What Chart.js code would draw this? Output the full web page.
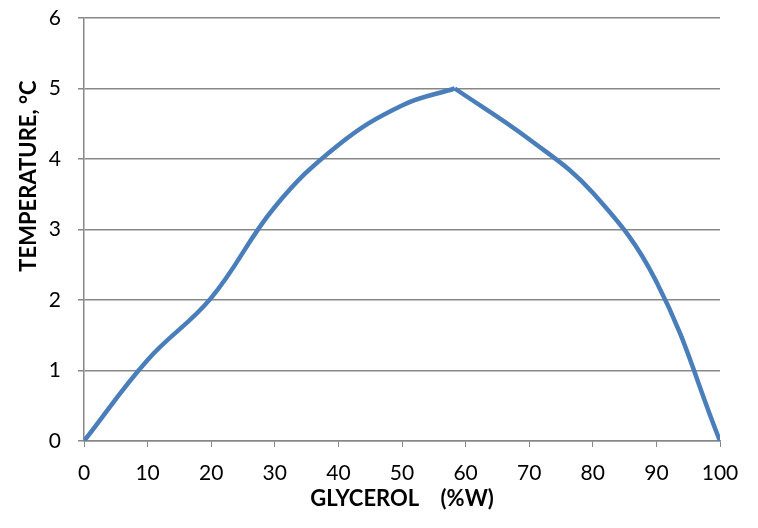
<!DOCTYPE html>
<html>
<head>
<meta charset="utf-8">
<script src="https://cdn.jsdelivr.net/npm/chart.js@4"></script>
<style>
html,body{margin:0;padding:0;background:#fff;}
#wrap{width:758px;height:528px;}
</style>
</head>
<body>
<div id="wrap"><canvas id="c" width="758" height="528"></canvas></div>
<script>
const xValues = [0, 10, 20, 30, 40, 50, 58.3, 70, 80, 90, 100];
const yValues = [0, 1.15, 2.03, 3.32, 4.2, 4.76, 5.0, 4.28, 3.52, 2.26, 0];
const xTitle = 'GLYCEROL    (%W)';
const yTitle = 'TEMPERATURE, °C';

const points = xValues.map((x, i) => ({x: x, y: yValues[i]}));
// split at the peak so the curve keeps its sharp top
let peak = 0;
yValues.forEach((v, i) => { if (v > yValues[peak]) peak = i; });
const leftPts = points.slice(0, peak + 1);
const rightPts = points.slice(peak);
const gridColor = '#878787';
const lineColor = '#4a7ebb';

const yTitlePlugin = {
  id: 'yTitle',
  afterDraw(chart) {
    const ctx = chart.ctx;
    ctx.save();
    ctx.translate(29, 176);
    ctx.rotate(-Math.PI / 2);
    ctx.font = 'bold 22px Lato';
    ctx.fillStyle = '#000';
    ctx.textAlign = 'center';
    ctx.textBaseline = 'middle';
    ctx.fillText(yTitle, 0, 0);
    ctx.restore();
  }
};

const ds = d => ({
  data: d,
  borderColor: lineColor,
  borderWidth: 4.5,
  pointRadius: 0,
  tension: 0.4,
  fill: false
});

new Chart(document.getElementById('c'), {
  type: 'line',
  data: {datasets: [ds(leftPts), ds(rightPts)]},
  options: {
    responsive: false,
    animation: false,
    devicePixelRatio: 1,
    layout: {padding: {top: 18, right: 38, left: 0, bottom: 0}},
    plugins: {legend: {display: false}, tooltip: {enabled: false}},
    scales: {
      x: {
        type: 'linear',
        min: 0, max: 100,
        ticks: {stepSize: 10, color: '#000', font: {family: 'Lato', size: 21}, padding: 14, maxRotation: 0},
        grid: {display: true, drawOnChartArea: false, drawTicks: true, tickLength: 6, color: gridColor, lineWidth: 1},
        border: {color: gridColor, width: 1.5},
        title: {display: true, text: xTitle, color: '#000', font: {family: 'Lato', size: 22, weight: 'bold'}, padding: {top: 0, bottom: 16}},
        afterFit: s => { s.height = 87; s.paddingLeft = 0; s.paddingRight = 0; }
      },
      y: {
        min: 0, max: 6,
        ticks: {stepSize: 1, color: '#000', font: {family: 'Lato', size: 21}, padding: 17},
        grid: {color: gridColor, lineWidth: 1.5, tickLength: 6, drawTicks: true},
        border: {color: gridColor, width: 1.5},
        afterFit: s => { s.width = 84; s.paddingTop = 0; s.paddingBottom = 0; }
      }
    }
  },
  plugins: [yTitlePlugin]
});
</script>
</body>
</html>
